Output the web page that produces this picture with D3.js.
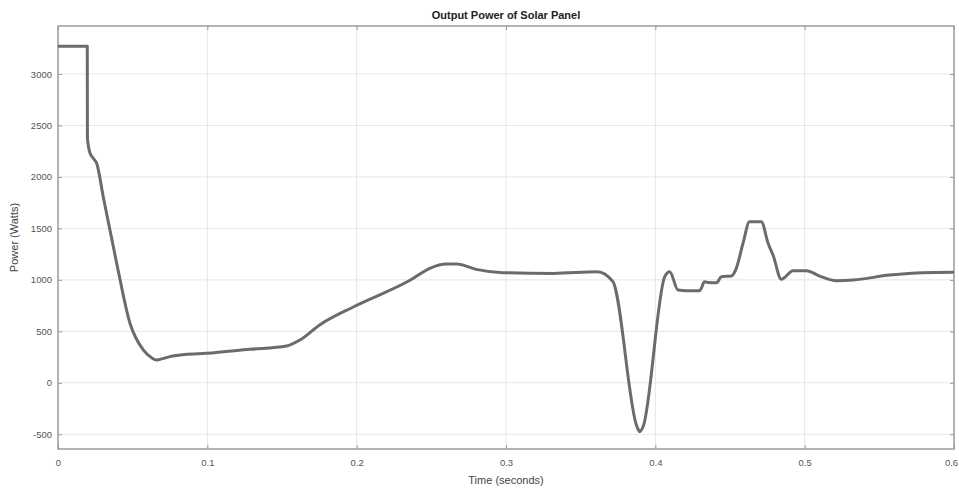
<!DOCTYPE html>
<html>
<head>
<meta charset="utf-8">
<script src="https://cdn.jsdelivr.net/npm/d3@7"></script>
<style>
  html, body { margin: 0; padding: 0; background: #fff; }
  svg text { font-family: "Liberation Sans", Arial, sans-serif; }
</style>
</head>
<body>
<div id="chart"></div>
<script>
// time (s) and power (W)
const times = [
  0, 0.0196, 0.0197, 0.0215, 0.0236, 0.0259, 0.0303, 0.0393, 0.0482, 0.0571,
  0.0625, 0.0661, 0.0700, 0.0750, 0.0850, 0.0995, 0.1285, 0.1530, 0.1620, 0.1750,
  0.1980, 0.2360, 0.2490, 0.2600, 0.2670, 0.2800, 0.2980, 0.3320, 0.3610, 0.3715,
  0.3877, 0.3896, 0.3918, 0.4063, 0.4096, 0.4152, 0.4210, 0.4297, 0.4330, 0.4353,
  0.4410, 0.4442, 0.4509, 0.4542, 0.4587, 0.4631, 0.4710, 0.4755, 0.4788, 0.4844,
  0.4922, 0.5011, 0.5100, 0.5212, 0.5323, 0.5569, 0.5792, 0.6000
];
const power = [
  3270, 3270, 2375, 2230, 2181, 2132, 1808, 1161, 578, 319,
  245, 221, 235, 254, 275, 286, 325, 357, 416, 560,
  739, 998, 1112, 1154, 1154, 1102, 1070, 1063, 1079, 985,
  -426, -475, -426, 1031, 1079, 901, 895, 895, 982, 975,
  972, 1031, 1037, 1112, 1355, 1565, 1565, 1355, 1241, 1005,
  1089, 1089, 1037, 992, 998, 1047, 1070, 1073
];
const xTicks = [0, 0.1, 0.2, 0.3, 0.4, 0.5, 0.6];
const xTickLabels = ['0', '0.1', '0.2', '0.3', '0.4', '0.5', '0.6'];
const yTicks = [-500, 0, 500, 1000, 1500, 2000, 2500, 3000];
const yTickLabels = ['-500', '0', '500', '1000', '1500', '2000', '2500', '3000'];

const W = 959, H = 490;
const plotL = 58, plotR = 954, plotT = 26, plotB = 449;

const svg = d3.select('#chart').append('svg')
    .attr('width', W)
    .attr('height', H);

const x = d3.scaleLinear().domain([0, 0.6]).range([plotL, plotR]);
const y = d3.scaleLinear().domain([-643, 3466]).range([plotB, plotT]);

// grid
const grid = svg.append('g').attr('class', 'grid');
grid.selectAll('.gx')
    .data(xTicks.slice(1, -1))
    .enter().append('line')
    .attr('x1', d => x(d)).attr('x2', d => x(d))
    .attr('y1', plotT).attr('y2', plotB)
    .attr('stroke', '#e6e6e6')
    .attr('stroke-width', 1);
grid.selectAll('.gy')
    .data(yTicks)
    .enter().append('line')
    .attr('x1', plotL).attr('x2', plotR)
    .attr('y1', d => y(d)).attr('y2', d => y(d))
    .attr('stroke', '#e6e6e6')
    .attr('stroke-width', 1);

// axes, ticks pointing inwards like matlab
const axisColor = '#9a9a9a';
const labelColor = '#555';

const xAxis = svg.append('g')
    .attr('transform', `translate(0,${plotB})`)
    .call(d3.axisBottom(x).tickValues(xTicks).tickSizeInner(-4).tickSizeOuter(0).tickPadding(10)
        .tickFormat((d, i) => xTickLabels[i]));
const xAxisTop = svg.append('g')
    .attr('transform', `translate(0,${plotT})`)
    .call(d3.axisTop(x).tickValues(xTicks).tickSizeInner(-4).tickSizeOuter(0).tickFormat(''));
const yAxis = svg.append('g')
    .attr('transform', `translate(${plotL},0)`)
    .call(d3.axisLeft(y).tickValues(yTicks).tickSizeInner(-4).tickSizeOuter(0).tickPadding(6)
        .tickFormat((d, i) => yTickLabels[i]));
const yAxisRight = svg.append('g')
    .attr('transform', `translate(${plotR},0)`)
    .call(d3.axisRight(y).tickValues(yTicks).tickSizeInner(-4).tickSizeOuter(0).tickFormat(''));

[xAxis, xAxisTop, yAxis, yAxisRight].forEach(a => {
    a.select('.domain').remove();
    a.selectAll('line').attr('stroke', axisColor);
    a.selectAll('text')
        .attr('fill', labelColor)
        .attr('font-size', '9.5px')
        .attr('font-family', '"Liberation Sans", Arial, sans-serif');
});
// last x label sits at the window edge; nudge it inside
xAxis.selectAll('.tick text').filter(d => d === 0.6).attr('dx', '-3');

// box
svg.append('rect')
    .attr('x', plotL).attr('y', plotT)
    .attr('width', plotR - plotL).attr('height', plotB - plotT)
    .attr('fill', 'none')
    .attr('stroke', axisColor)
    .attr('stroke-width', 1.5);

// power curve
const line = d3.line()
    .x((d, i) => x(times[i]))
    .y(d => y(d))
    .curve(d3.curveMonotoneX);

svg.append('path')
    .datum(power)
    .attr('d', line)
    .attr('fill', 'none')
    .attr('stroke', '#6b6b6b')
    .attr('stroke-width', 3)
    .attr('stroke-linejoin', 'round');

// labels
svg.append('text')
    .attr('x', (plotL + plotR) / 2)
    .attr('y', 19)
    .attr('text-anchor', 'middle')
    .attr('font-size', '11px')
    .attr('font-weight', 'bold')
    .attr('fill', '#222')
    .text('Output Power of Solar Panel');

svg.append('text')
    .attr('x', (plotL + plotR) / 2)
    .attr('y', 484)
    .attr('text-anchor', 'middle')
    .attr('font-size', '11px')
    .attr('fill', '#444')
    .text('Time (seconds)');

svg.append('text')
    .attr('transform', `translate(18,${(plotT + plotB) / 2}) rotate(-90)`)
    .attr('text-anchor', 'middle')
    .attr('font-size', '11px')
    .attr('fill', '#444')
    .text('Power (Watts)');
</script>
</body>
</html>
